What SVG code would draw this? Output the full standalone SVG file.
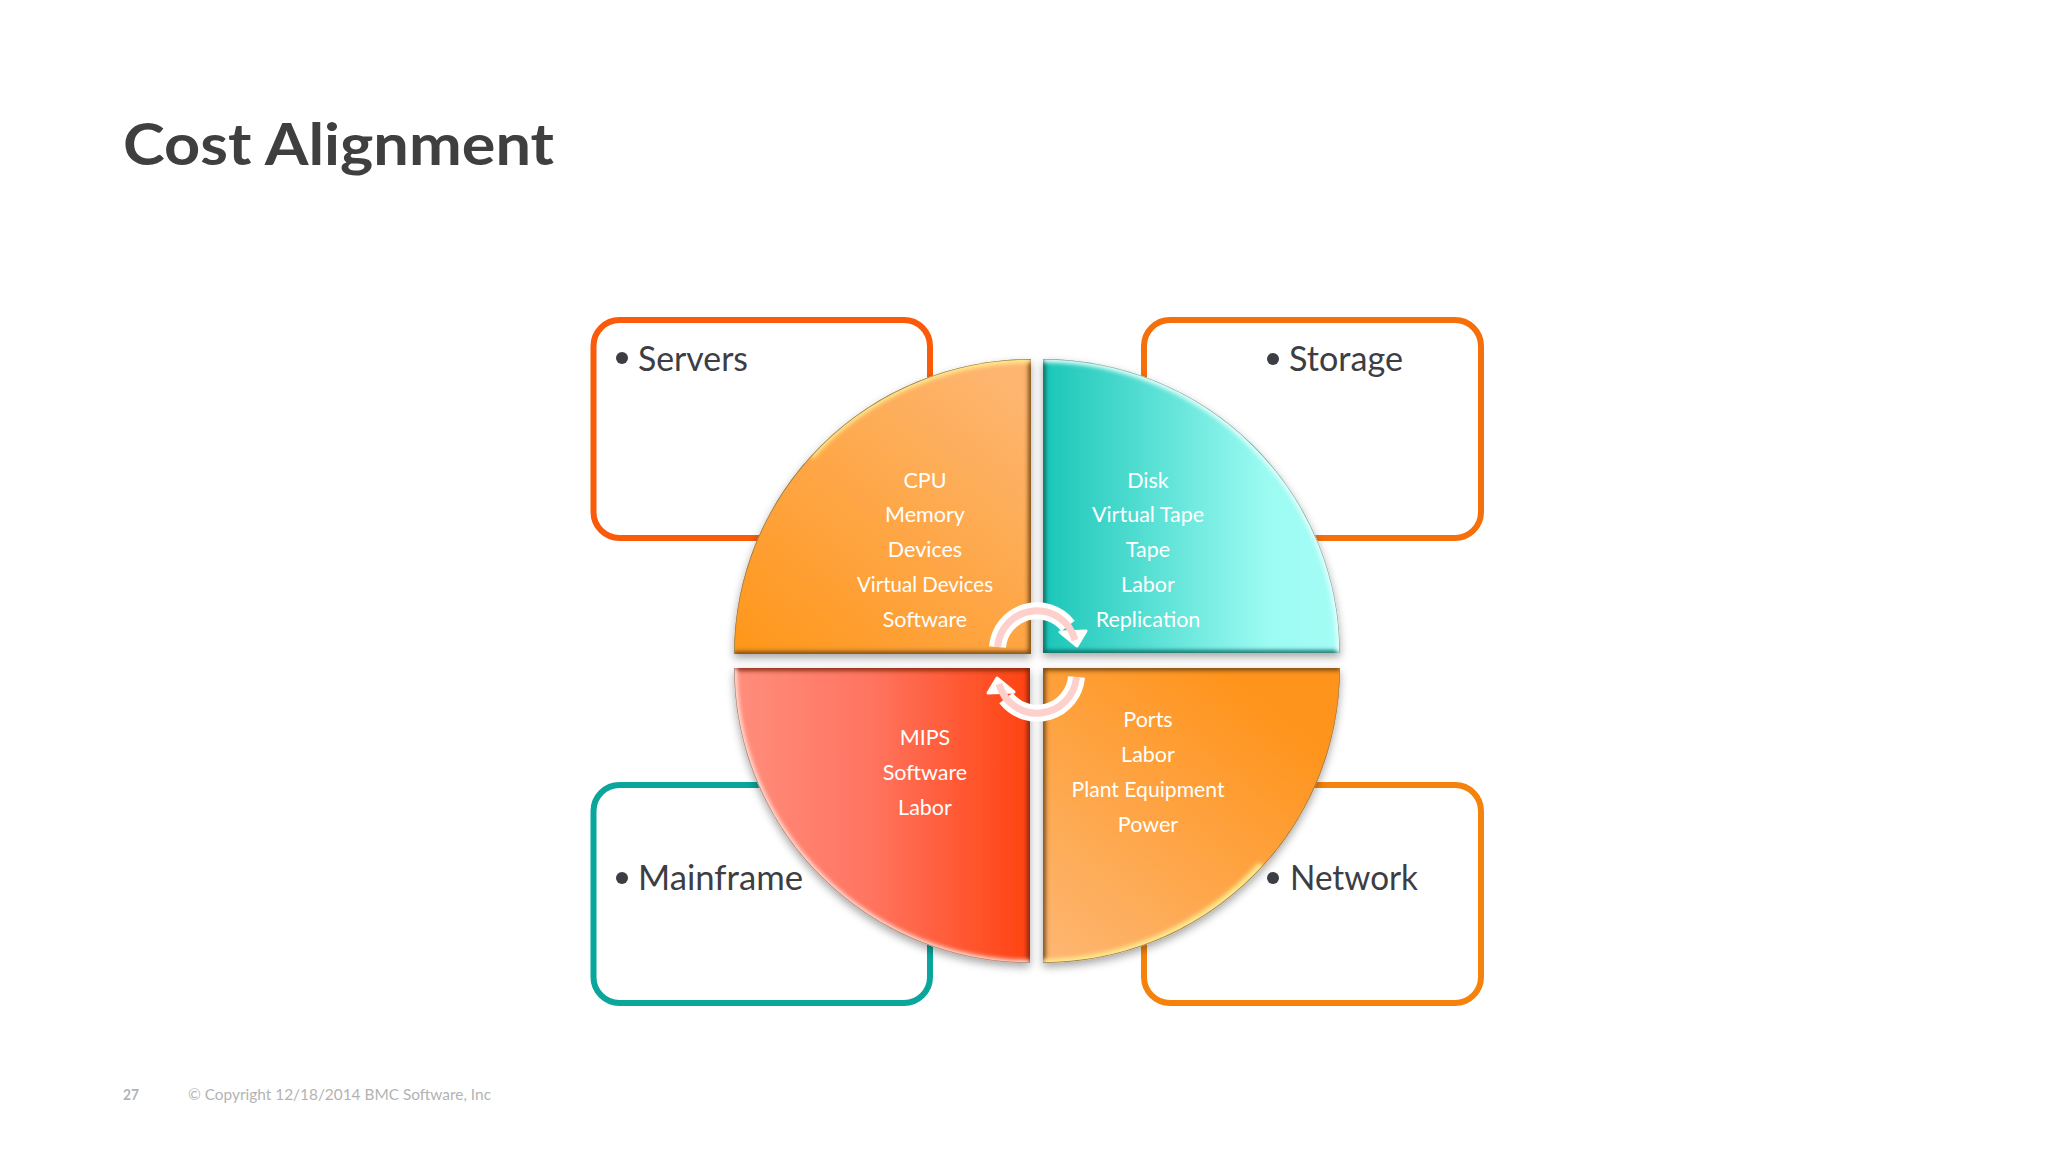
<svg xmlns="http://www.w3.org/2000/svg" width="2048" height="1152" viewBox="0 0 2048 1152">
<style>
text{font-family:"Lato","Liberation Sans",sans-serif}
.box{fill:#fff;stroke-width:6}
.lbl{font-size:34px;fill:#3c3e44}
.dot{fill:#3c3e44}
.w{font-size:21.5px;fill:#fff;text-anchor:middle}
.ah{fill:#fff;stroke:#fff;stroke-width:3;stroke-linejoin:round}
.at{fill:none;stroke:#fff;stroke-width:17}
.ap{fill:none;stroke:#fdd0cc;stroke-width:7}
</style>
<defs>
<linearGradient id="gTL" x1="0" y1="1" x2="0.8" y2="0"><stop offset="0" stop-color="#ff9619"/><stop offset="1" stop-color="#fdb56f"/></linearGradient>
<linearGradient id="gTR" x1="0" y1="0" x2="1" y2="0"><stop offset="0" stop-color="#1ac6b8"/><stop offset="0.75" stop-color="#9bfbf2"/><stop offset="1" stop-color="#a4fdf6"/></linearGradient>
<linearGradient id="gBL" x1="0" y1="0" x2="1" y2="0"><stop offset="0" stop-color="#ff8d7c"/><stop offset="0.45" stop-color="#ff7561"/><stop offset="1" stop-color="#ff4311"/></linearGradient>
<linearGradient id="gBR" x1="0.8" y1="0" x2="0" y2="1"><stop offset="0.1" stop-color="#ff941c"/><stop offset="0.95" stop-color="#fdb56f"/></linearGradient>
<filter id="sh" x="-10%" y="-10%" width="120%" height="120%"><feDropShadow dx="0" dy="4" stdDeviation="4" flood-color="#000" flood-opacity="0.35"/></filter>
<filter id="bl" x="-10%" y="-10%" width="120%" height="120%"><feGaussianBlur stdDeviation="2"/></filter>
<clipPath id="cTL"><path d="M1031 654H734A297 295 0 0 1 1031 359Z"/></clipPath>
<clipPath id="cTR"><path d="M1043 653H1340A297 294 0 0 0 1043 359Z"/></clipPath>
<clipPath id="cBL"><path d="M1030 668H734A296 295 0 0 0 1030 963Z"/></clipPath>
<clipPath id="cBR"><path d="M1043 668H1340A297 295 0 0 1 1043 963Z"/></clipPath>
</defs>
<rect width="2048" height="1152" fill="#fff"/>
<g id="title"><text x="123" y="165" font-size="58" font-weight="700" fill="#3f3f3f" textLength="431" lengthAdjust="spacingAndGlyphs">Cost Alignment</text></g>
<g id="servers"><rect class="box" x="593.500" y="320" width="336.500" height="218" rx="26" stroke="#fa5a0a"/><circle class="dot" cx="622" cy="358" r="6"/><text class="lbl" x="638" y="371" textLength="110" lengthAdjust="spacingAndGlyphs">Servers</text></g>
<g id="storage"><rect class="box" x="1144" y="320" width="337" height="218" rx="26" stroke="#f56f0b"/><circle class="dot" cx="1273" cy="359" r="6"/><text class="lbl" x="1289" y="371" textLength="114" lengthAdjust="spacingAndGlyphs">Storage</text></g>
<g id="mainframe"><rect class="box" x="593.500" y="785" width="336.500" height="218" rx="26" stroke="#0aa59b"/><circle class="dot" cx="622" cy="878" r="6"/><text class="lbl" x="638" y="890" textLength="165" lengthAdjust="spacingAndGlyphs">Mainframe</text></g>
<g id="network"><rect class="box" x="1144" y="785" width="337" height="218" rx="26" stroke="#f5820b"/><circle class="dot" cx="1273" cy="878" r="6"/><text class="lbl" x="1290" y="890" textLength="128" lengthAdjust="spacingAndGlyphs">Network</text></g>
<g id="pie-servers">
<path filter="url(#sh)" fill="url(#gTL)" d="M1031 654H734A297 295 0 0 1 1031 359Z"/>
<g clip-path="url(#cTL)"><path filter="url(#bl)" fill="none" stroke="#6e4514" stroke-width="5" d="M1031 359V654H734"/><path filter="url(#bl)" fill="none" stroke="#ffe98f" stroke-width="8" d="M810 456A297 295 0 0 1 1031 359"/><path fill="none" stroke="#8f8058" stroke-width="1.500" d="M734 654A297 295 0 0 1 1031 359"/></g>
<text class="w" x="925" y="488">CPU</text><text class="w" x="925" y="522">Memory</text><text class="w" x="925" y="557">Devices</text><text class="w" x="925" y="592" textLength="136" lengthAdjust="spacingAndGlyphs">Virtual Devices</text><text class="w" x="925" y="627">Software</text></g>
<g id="pie-storage">
<path filter="url(#sh)" fill="url(#gTR)" d="M1043 653H1340A297 294 0 0 0 1043 359Z"/>
<g clip-path="url(#cTR)"><path filter="url(#bl)" fill="none" stroke="#07615b" stroke-width="5" d="M1043 359V653H1340"/><path filter="url(#bl)" fill="none" stroke="#e6fffb" stroke-width="7" d="M1340 653A297 294 0 0 0 1043 359"/><path fill="none" stroke="#8fa8a4" stroke-width="1.500" d="M1340 653A297 294 0 0 0 1043 359"/></g>
<text class="w" x="1148" y="488">Disk</text><text class="w" x="1148" y="522">Virtual Tape</text><text class="w" x="1148" y="557">Tape</text><text class="w" x="1148" y="592">Labor</text><text class="w" x="1148" y="627">Replication</text></g>
<g id="pie-mainframe">
<path filter="url(#sh)" fill="url(#gBL)" d="M1030 668H734A296 295 0 0 0 1030 963Z"/>
<g clip-path="url(#cBL)"><path filter="url(#bl)" fill="none" stroke="#7a2009" stroke-width="5" d="M734 668H1030V963"/><path filter="url(#bl)" fill="none" stroke="#ffe3d8" stroke-width="6" d="M734 668A296 295 0 0 0 1030 963"/><path fill="none" stroke="#a08a80" stroke-width="1.500" d="M734 668A296 295 0 0 0 1030 963"/></g>
<text class="w" x="925" y="745">MIPS</text><text class="w" x="925" y="780">Software</text><text class="w" x="925" y="815">Labor</text></g>
<g id="pie-network">
<path filter="url(#sh)" fill="url(#gBR)" d="M1043 668H1340A297 295 0 0 1 1043 963Z"/>
<g clip-path="url(#cBR)"><path filter="url(#bl)" fill="none" stroke="#6e4514" stroke-width="5" d="M1340 668H1043V963"/><path filter="url(#bl)" fill="none" stroke="#ffe98f" stroke-width="8" d="M1262 865A297 295 0 0 1 1043 963"/><path fill="none" stroke="#8f8058" stroke-width="1.500" d="M1340 668A297 295 0 0 1 1043 963"/></g>
<text class="w" x="1148" y="727">Ports</text><text class="w" x="1148" y="762">Labor</text><text class="w" x="1148" y="797" textLength="153" lengthAdjust="spacingAndGlyphs">Plant Equipment</text><text class="w" x="1148" y="832">Power</text></g>
<g id="connectors">
<g id="arrow-top"><path class="at" d="M997.500 647A39.500 39.500 0 0 1 1068 626"/><path class="ah" d="M1086 631L1077 646L1060 632Z"/><path class="ap" d="M997.500 647A39.500 39.500 0 0 1 1075 640"/></g>
<g id="arrow-bottom" transform="rotate(180 1037 662)"><path class="at" d="M997.500 647A39.500 39.500 0 0 1 1068 626"/><path class="ah" d="M1086 631L1077 646L1060 632Z"/><path class="ap" d="M997.500 647A39.500 39.500 0 0 1 1075 640"/></g>
</g>
<g id="footer"><text x="123" y="1100" font-size="15" font-weight="700" fill="#b3b3b3" textLength="16" lengthAdjust="spacingAndGlyphs">27</text><text x="188" y="1100" font-size="15" fill="#b3b3b3" textLength="303" lengthAdjust="spacingAndGlyphs">© Copyright 12/18/2014 BMC Software, Inc</text></g>
</svg>
